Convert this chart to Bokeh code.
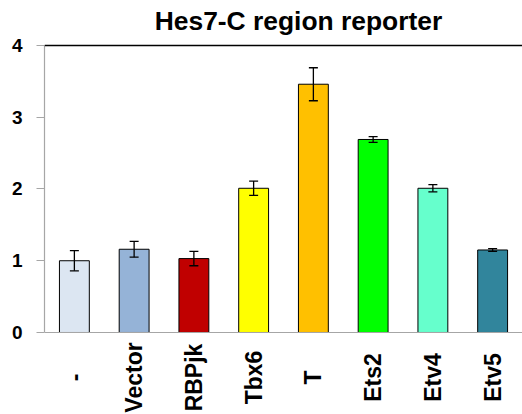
from math import pi

from bokeh.plotting import figure
from bokeh.models import ColumnDataSource, Whisker, TeeHead, Span
from bokeh.core.properties import value
from bokeh.embed import file_html
from bokeh.resources import INLINE

# Reporter activity for each construct
categories = ["-", "Vector", "RBPjk", "Tbx6", "T", "Ets2", "Etv4", "Etv5"]
activity = [1.00, 1.16, 1.03, 2.01, 3.46, 2.69, 2.01, 1.15]
errors = [0.14, 0.11, 0.10, 0.10, 0.23, 0.04, 0.05, 0.02]
colors = ["#DCE6F2", "#95B3D7", "#C00000", "#FFFF00", "#FFC000", "#00FF00", "#66FFCC", "#31859C"]
y_ticks = [0, 1, 2, 3, 4]
title_text = "Hes7-C region reporter"

FONT = "Liberation Sans"
Y_MAX = 4
# the frame covers the whole canvas height: room above for the title,
# room below the baseline for the rotated category names
Y_TOP = 4.627
Y_BOTTOM = -1.143
LABEL_Y = -0.627
TITLE_X, TITLE_Y = 4.25, 4.335

xs = [i + 0.5 for i in range(len(categories))]

source = ColumnDataSource(data=dict(
    x=xs,
    cat=categories,
    val=activity,
    upper=[v + e for v, e in zip(activity, errors)],
    lower=[v - e for v, e in zip(activity, errors)],
    color=colors,
    label_y=[LABEL_Y] * len(categories),
))

p = figure(
    width=522, height=414,
    x_range=(0, len(categories)),
    y_range=(Y_BOTTOM, Y_TOP),
    output_backend="svg",
    toolbar_location=None,
    min_border_left=44, min_border_right=0,
    min_border_top=0, min_border_bottom=0,
)

p.vbar(x="x", top="val", width=0.5, source=source,
       fill_color="color", line_color="black", line_width=1)

head = dict(size=9, line_color="black", line_width=1.3)
p.add_layout(Whisker(base="x", upper="upper", lower="lower", source=source,
                     line_color="black", line_width=1.3, level="overlay",
                     upper_head=TeeHead(**head), lower_head=TeeHead(**head)))

# black rule along the top, grey baseline at zero
p.add_layout(Span(location=Y_MAX, dimension="width", line_color="black", line_width=1.5))
p.add_layout(Span(location=0, dimension="width", line_color="#A6A6A6", line_width=1.2))

# rotated category names, centred below each bar
p.text(x="x", y="label_y", text="cat", source=source,
       angle=pi / 2, text_align="center", text_baseline="middle",
       text_font=value(FONT), text_font_style="bold", text_font_size="23px",
       text_color="black")

# chart title
p.text(x=[TITLE_X], y=[TITLE_Y], text=[title_text],
       text_align="center", text_baseline="alphabetic",
       text_font=value(FONT), text_font_style="bold", text_font_size="26.4px",
       text_color="black")

p.outline_line_color = None
p.grid.grid_line_color = None
p.background_fill_color = "white"
p.border_fill_color = "white"

ya = p.yaxis[0]
ya.ticker = y_ticks
ya.bounds = (0, Y_MAX)
ya.axis_line_color = "#A6A6A6"
ya.axis_line_width = 1.2
ya.major_tick_line_color = "#A6A6A6"
ya.major_tick_out = 8
ya.major_tick_in = 0
ya.minor_tick_line_color = None
ya.major_label_text_font = FONT
ya.major_label_text_font_style = "bold"
ya.major_label_text_font_size = "19px"
ya.major_label_text_color = "black"
ya.major_label_standoff = 14

p.xaxis.visible = False

open("out.html", "w").write(file_html(p, INLINE))
